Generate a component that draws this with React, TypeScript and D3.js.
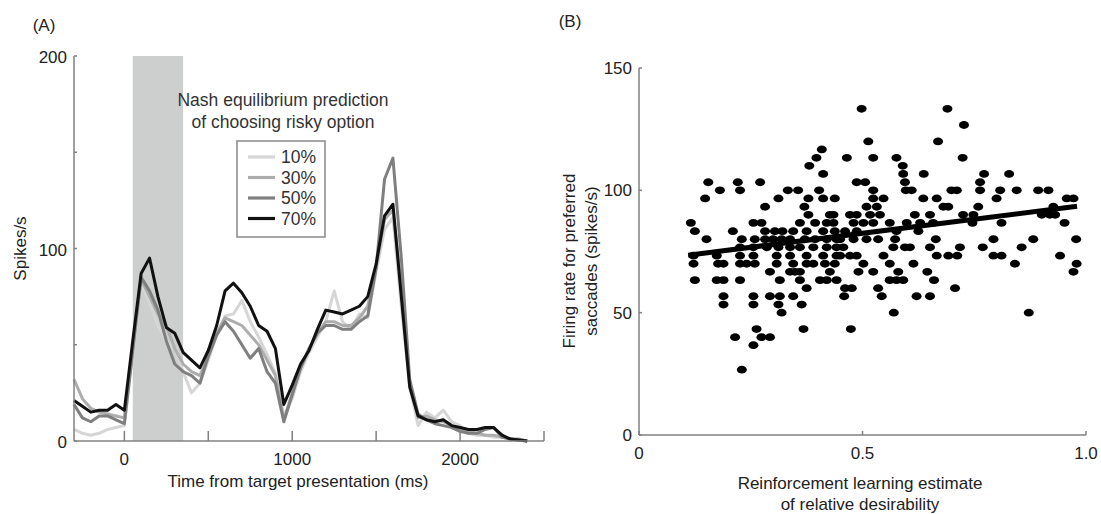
import React from 'react';
import * as d3 from 'd3';

// ---------- Panel A data ----------
const times = [-300,-250,-200,-150,-100,-50,0,50,100,150,200,250,300,350,400,450,500,550,600,650,700,750,800,850,900,950,1000,1050,1100,1150,1200,1250,1300,1350,1400,1450,1500,1550,1600,1650,1700,1750,1800,1850,1900,1950,2000,2050,2100,2150,2200,2250,2300,2350,2400];
const p10 = [6,4,3,4,6,7,8,45,82,72,60,52,48,36,25,30,42,55,65,66,73,62,54,45,35,13,22,36,46,54,62,78,62,58,66,64,88,110,116,70,28,8,15,12,16,10,8,4,3,3,2,2,1,1,0];
const p30 = [32,22,17,15,14,13,12,48,84,75,66,60,48,40,36,34,44,56,64,62,60,55,50,42,34,11,25,38,48,56,62,62,60,60,64,70,90,115,120,80,30,12,13,11,10,8,6,5,4,3,3,2,1,1,0];
const p50 = [19,12,10,13,13,11,9,47,85,78,68,52,40,36,34,30,44,55,62,57,50,43,48,36,30,10,24,38,48,56,60,60,58,58,62,65,90,136,147,95,32,14,11,9,8,7,5,4,4,6,7,2,1,0.5,0];
const p70 = [21,18,15,16,16,19,16,52,87,95,75,59,56,46,42,38,47,60,78,82,77,70,60,57,48,19,29,40,47,58,68,67,66,68,70,75,92,117,123,75,28,13,11,10,11,8,7,6,6,7,7,3,1,0.5,0];
const seriesNames = ['10%', '30%', '50%', '70%'];
const seriesColors = ['#d6d6d6', '#adadad', '#7f7f7f', '#111111'];
const shadeStart = 50;
const shadeEnd = 350;
const xTicksA = [0, 500, 1000, 1500, 2000, 2500];
const xTickLabelsA = ['0', '', '1000', '', '2000', ''];
const yTicksA = [0, 50, 100, 150, 200];
const yTickLabelsA = ['0', '', '100', '', '200'];

// ---------- Panel B data (grouped by firing-rate row) ----------
const rowLevels = [133.3,126.7,120,116.7,113.3,110,106.7,103.3,100,96.7,93.3,90,86.7,83.3,80,76.7,73.3,70,66.7,63.3,60,56.7,53.3,50,43.3,40,36.7,26.7];
const rowXs = [
  [0.498, 0.690],
  [0.727],
  [0.513, 0.669],
  [0.409],
  [0.397, 0.465, 0.524, 0.576, 0.724],
  [0.381, 0.590],
  [0.412, 0.591, 0.637, 0.772, 0.828],
  [0.155, 0.221, 0.271, 0.487, 0.506, 0.595, 0.763],
  [0.181, 0.226, 0.333, 0.356, 0.403, 0.524, 0.597, 0.610, 0.699, 0.711, 0.763, 0.808, 0.845, 0.893, 0.916],
  [0.148, 0.312, 0.379, 0.412, 0.438, 0.524, 0.547, 0.636, 0.666, 0.800, 0.957, 0.972],
  [0.282, 0.370, 0.509, 0.532, 0.681, 0.692, 0.759, 0.927],
  [0.379, 0.427, 0.435, 0.472, 0.487, 0.517, 0.539, 0.617, 0.651, 0.725, 0.748, 0.901, 0.919, 0.931],
  [0.116, 0.256, 0.274, 0.360, 0.394, 0.420, 0.435, 0.480, 0.502, 0.524, 0.561, 0.599, 0.629, 0.658, 0.746, 0.811, 0.952],
  [0.125, 0.210, 0.282, 0.304, 0.321, 0.345, 0.375, 0.412, 0.438, 0.461, 0.487, 0.576, 0.625],
  [0.151, 0.230, 0.259, 0.282, 0.300, 0.319, 0.338, 0.371, 0.394, 0.420, 0.442, 0.450, 0.480, 0.509, 0.535, 0.573, 0.664, 0.793, 0.882, 0.978],
  [0.226, 0.256, 0.286, 0.312, 0.338, 0.360, 0.390, 0.420, 0.442, 0.457, 0.569, 0.595, 0.606, 0.651, 0.718, 0.769, 0.856],
  [0.122, 0.174, 0.226, 0.256, 0.308, 0.338, 0.375, 0.412, 0.442, 0.450, 0.472, 0.487, 0.547, 0.666, 0.692, 0.712, 0.793, 0.811, 0.942],
  [0.122, 0.177, 0.189, 0.226, 0.241, 0.259, 0.308, 0.345, 0.375, 0.390, 0.416, 0.438, 0.502, 0.561, 0.614, 0.841, 0.979],
  [0.293, 0.338, 0.349, 0.360, 0.427, 0.491, 0.524, 0.580, 0.645, 0.972],
  [0.125, 0.174, 0.189, 0.226, 0.315, 0.360, 0.405, 0.420, 0.442, 0.561, 0.576, 0.591, 0.660],
  [0.375, 0.461, 0.476, 0.535, 0.707],
  [0.189, 0.256, 0.293, 0.315, 0.345, 0.459, 0.543, 0.621, 0.651],
  [0.189, 0.256, 0.312, 0.364],
  [0.319, 0.570, 0.872],
  [0.263, 0.368, 0.474],
  [0.215, 0.274, 0.293],
  [0.256],
  [0.230],
];
const fitX = [0.11, 0.98];
const fitY = [73.5, 93.5];
const xTicksB = [0, 0.5, 1.0];
const xTickLabelsB = ['0', '0.5', '1.0'];
const yTicksB = [0, 50, 100, 150];
const yTickLabelsB = ['0', '50', '100', '150'];

const FONT = "'Liberation Sans', Arial, Helvetica, sans-serif";
const AXIS = '#808080';
const TXT = '#222';

export default function App() {
  // Panel A scales
  const xA = d3.scaleLinear().domain([-300, 2500]).range([74, 544]);
  const yA = d3.scaleLinear().domain([0, 200]).range([441, 56]);
  const seriesA = [p10, p30, p50, p70];
  const line = (vals: number[]) =>
    d3.line<number>().x((_, i) => xA(times[i])).y((v) => yA(v))(vals) || '';

  // Panel B scales
  const xB = d3.scaleLinear().domain([0, 1]).range([639, 1086]);
  const yB = d3.scaleLinear().domain([0, 150]).range([435, 68]);
  const points: { x: number; y: number }[] = [];
  rowLevels.forEach((lv, i) => rowXs[i].forEach((x) => points.push({ x, y: lv })));

  const legX = 237, legY = 141, legW = 88, legH = 96;

  return (
    <svg width={1101} height={514} style={{ position: 'absolute', left: 0, top: 0, background: '#fff' }} fontFamily={FONT}>
      <rect x={0} y={0} width={1101} height={514} fill="#fff" />
      {/* ---------- Panel A ---------- */}
      <text x={44} y={31} fontSize={17} fill={TXT} textAnchor="middle">(A)</text>
      <rect x={xA(shadeStart)} y={yA(200)} width={xA(shadeEnd) - xA(shadeStart)} height={yA(0) - yA(200)} fill="#cccfce" />
      {seriesA.map((s, i) => (
        <path key={i} d={line(s)} fill="none" stroke={seriesColors[i]} strokeWidth={3} strokeLinejoin="round" />
      ))}
      {/* axes */}
      <line x1={xA(-300)} x2={xA(-300)} y1={yA(0)} y2={yA(200)} stroke={AXIS} strokeWidth={1.5} />
      <line x1={xA(-300)} x2={xA(2500)} y1={yA(0)} y2={yA(0)} stroke={AXIS} strokeWidth={1.5} />
      {xTicksA.map((t, i) => (
        <g key={t}>
          <line x1={xA(t)} x2={xA(t)} y1={yA(0)} y2={yA(0) - 10} stroke={AXIS} strokeWidth={1.5} />
          <text x={xA(t)} y={yA(0) + 24} fontSize={17} fill={TXT} textAnchor="middle">{xTickLabelsA[i]}</text>
        </g>
      ))}
      {yTicksA.map((t, i) => (
        <g key={t}>
          <line x1={xA(-300)} x2={xA(-300) + 3} y1={yA(t)} y2={yA(t)} stroke={AXIS} strokeWidth={1.5} />
          <text x={xA(-300) - 7} y={yA(t) + 7} fontSize={17} fill={TXT} textAnchor="end">{yTickLabelsA[i]}</text>
        </g>
      ))}
      <text transform={`translate(20,${yA(100)}) rotate(-90)`} fontSize={17} fill={TXT} textAnchor="middle" dominantBaseline="central">Spikes/s</text>
      <text x={298} y={487} fontSize={17} fill={TXT} textAnchor="middle">Time from target presentation (ms)</text>
      {/* legend */}
      <text x={283} y={106} fontSize={17.5} fill="#333" textAnchor="middle">Nash equilibrium prediction</text>
      <text x={283} y={128} fontSize={17.5} fill="#333" textAnchor="middle">of choosing risky option</text>
      <rect x={legX} y={legY} width={legW} height={legH} fill="#fff" stroke="#888" strokeWidth={1.5} />
      {seriesNames.map((n, i) => (
        <g key={n}>
          <line x1={legX + 11} x2={legX + 38} y1={legY + 16 + i * 20.5} y2={legY + 16 + i * 20.5} stroke={seriesColors[i]} strokeWidth={3.2} />
          <text x={legX + 44} y={legY + 16 + i * 20.5 + 6} fontSize={17.5} fill="#333">{n}</text>
        </g>
      ))}

      {/* ---------- Panel B ---------- */}
      <text x={570} y={27} fontSize={17} fill={TXT} textAnchor="middle">(B)</text>
      <line x1={xB(0)} x2={xB(0)} y1={yB(0)} y2={yB(150)} stroke={AXIS} strokeWidth={1.5} />
      <line x1={xB(0)} x2={xB(1)} y1={yB(0)} y2={yB(0)} stroke={AXIS} strokeWidth={1.5} />
      {xTicksB.map((t, i) => (
        <g key={t}>
          <line x1={xB(t)} x2={xB(t)} y1={yB(0)} y2={yB(0) - 4} stroke={AXIS} strokeWidth={1.5} />
          <text x={xB(t)} y={yB(0) + 24} fontSize={17} fill={TXT} textAnchor="middle">{xTickLabelsB[i]}</text>
        </g>
      ))}
      {yTicksB.map((t, i) => (
        <g key={t}>
          <line x1={xB(0)} x2={xB(0) + 3} y1={yB(t)} y2={yB(t)} stroke={AXIS} strokeWidth={1.5} />
          <text x={xB(0) - 7} y={yB(t) + 6} fontSize={17} fill={TXT} textAnchor="end">{yTickLabelsB[i]}</text>
        </g>
      ))}
      {points.map((p, i) => (
        <ellipse key={i} cx={xB(p.x)} cy={yB(p.y)} rx={5} ry={3.9} fill="#000" />
      ))}
      <line x1={xB(fitX[0])} x2={xB(fitX[1])} y1={yB(fitY[0])} y2={yB(fitY[1])} stroke="#000" strokeWidth={5} />
      <text transform="translate(569,261) rotate(-90)" fontSize={17} fill={TXT} textAnchor="middle" dominantBaseline="central">Firing rate for preferred</text>
      <text transform="translate(591,261) rotate(-90)" fontSize={17} fill={TXT} textAnchor="middle" dominantBaseline="central">saccades (spikes/s)</text>
      <text x={860} y={489} fontSize={17} fill={TXT} textAnchor="middle">Reinforcement learning estimate</text>
      <text x={860} y={510} fontSize={17} fill={TXT} textAnchor="middle">of relative desirability</text>
    </svg>
  );
}
